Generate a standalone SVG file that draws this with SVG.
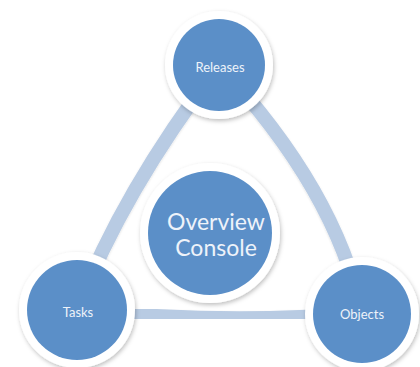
<svg xmlns="http://www.w3.org/2000/svg" width="420" height="367" viewBox="0 0 420 367">
<defs>
<filter id="sh" x="-20%" y="-20%" width="140%" height="140%">
<feDropShadow dx="1" dy="2" stdDeviation="2" flood-color="#000" flood-opacity="0.25"/>
</filter>
<filter id="bsh" x="-10%" y="-10%" width="120%" height="120%">
<feDropShadow dx="0" dy="1" stdDeviation="1" flood-color="#000" flood-opacity="0.12"/>
</filter>
<style>
.ring{fill:#ffffff;filter:url(#sh);}
.disc{fill:#5b8fc8;}
.lbl{font-family:Lato,"Open Sans","Liberation Sans",sans-serif;fill:#eef3fa;text-anchor:middle;}
.band{fill:none;stroke:#b8cbe3;stroke-width:14;stroke-linecap:round;filter:url(#bsh);}
</style>
</defs>
<rect width="420" height="367" fill="#ffffff"/>
<g id="connectors">
<path class="band" d="M219,65 Q122,192 77,310"/>
<path class="band" d="M219,65 Q336,190 362,314"/>
<path class="band" d="M77,310 Q211,324 362,314"/>
</g>
<g id="releases">
<circle class="ring" cx="219" cy="65" r="54"/>
<circle class="disc" cx="219" cy="65" r="46"/>
<text class="lbl" x="220" y="72" font-size="13">Releases</text>
</g>
<g id="overview">
<circle class="ring" cx="210" cy="233" r="70"/>
<circle class="disc" cx="210" cy="233" r="62"/>
<text class="lbl" x="216" y="230" font-size="23">Overview</text>
<text class="lbl" x="216" y="256" font-size="23">Console</text>
</g>
<g id="tasks">
<circle class="ring" cx="77" cy="310" r="58"/>
<circle class="disc" cx="77" cy="310" r="50"/>
<text class="lbl" x="78" y="317" font-size="13">Tasks</text>
</g>
<g id="objects">
<circle class="ring" cx="362" cy="314" r="57"/>
<circle class="disc" cx="362" cy="314" r="49"/>
<text class="lbl" x="362" y="319" font-size="13">Objects</text>
</g>
</svg>
